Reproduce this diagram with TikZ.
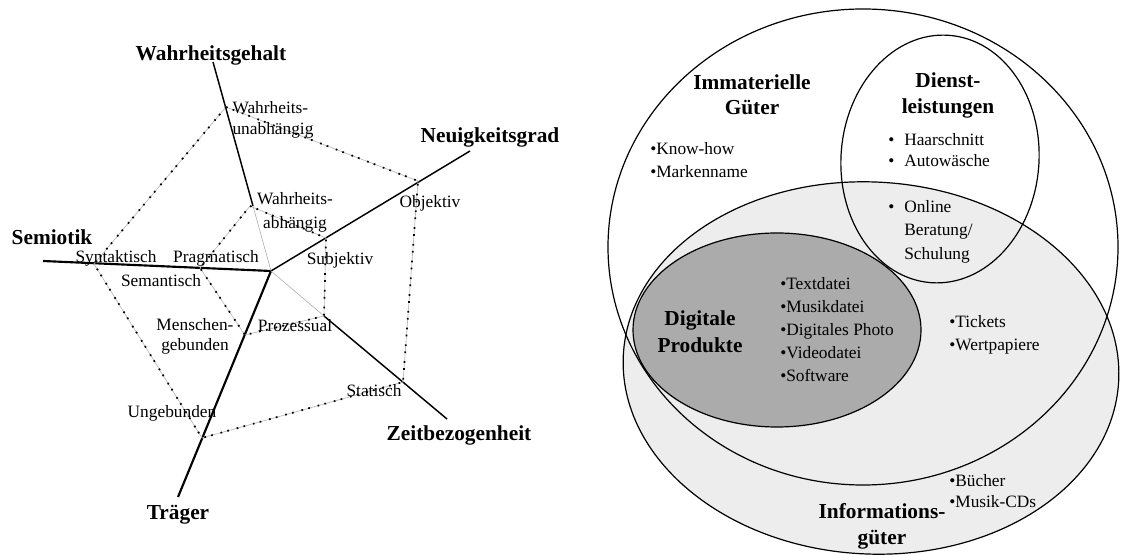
\documentclass[tikz,border=0pt]{standalone}
\usepackage{fontspec}
\setmainfont{Liberation Serif}
\begin{document}
\begin{tikzpicture}[x=0.75pt,y=-0.75pt,
  small/.style={font=\fontsize{13}{17}\selectfont, inner sep=0pt},
  head/.style={font=\fontsize{16}{20}\selectfont\bfseries, inner sep=0pt, align=center},
  axisthick/.style={line width=1.6pt},
  axismed/.style={line width=1.1pt},
  axisfaint/.style={line width=0.4pt, draw=gray!70},
  profile/.style={draw=gray!55, line width=0.5pt,
    postaction={draw=black, line width=1.3pt, dash pattern=on 1.3pt off 4pt on 1.3pt off 6pt}},
  setline/.style={line width=0.9pt},
]
\useasboundingbox (0,0) rectangle (1121,555);

% ---------- profile chart: axes ----------
\coordinate (c) at (271,271);
\coordinate (sEnd) at (43,261);
\coordinate (wEnd) at (213,62);
\coordinate (wMid) at (253,206);
\coordinate (nEnd) at (470,151);
\coordinate (zMid) at (324,316);
\coordinate (zEnd) at (447,419);
\coordinate (tEnd) at (178,497);

\draw[axisthick] (sEnd) -- (c);
\draw[axisthick] (c) -- (tEnd);
\draw[axismed] (c) -- (nEnd);
\draw[axisfaint] (c) -- (wMid);
\draw[axismed] (wMid) -- (wEnd);
\draw[axisfaint] (c) -- (zMid);
\draw[axismed] (zMid) -- (zEnd);

% axis titles
\node[head] (wg) at (211,55) {Wahrheitsgehalt};
\node[head] (ng) at (490,137) {Neuigkeitsgrad};
\node[head] (sem) at (52,237) {Semiotik};
\node[head] (zb) at (459,435) {Zeitbezogenheit};
\node[head] (tr) at (178,515) {Träger};

% ---------- profile chart: characteristic values ----------
\coordinate (p1) at (226,107);
\coordinate (p2) at (418,181);
\coordinate (p3) at (403,382);
\coordinate (p4) at (202,438);
\coordinate (p5) at (94,264);

\coordinate (q1) at (250,206);
\coordinate (q2) at (326,238);
\coordinate (q3) at (324,316);
\coordinate (q4) at (245,335);
\coordinate (q5) at (200,268);

\draw[profile] (p1) -- (p2) -- (p3) -- (p4) -- (p5) -- cycle;
\draw[profile] (q1) -- (q2) -- (q3) -- (q4) -- (q5) -- cycle;

\node[small, font=\fontsize{13}{15.8}\selectfont, align=left] (wu) at (273,119.5) {Wahrheits-\\unabhängig};
\node[small, font=\fontsize{13}{18}\selectfont, align=center] (wa) at (295,212) {Wahrheits-\\abhängig};
\node[small] (obj) at (430,203) {Objektiv};
\node[small] (subj) at (340,260) {Subjektiv};
\node[small] (syn) at (116,258) {Syntaktisch};
\node[small] (prag) at (216,258) {Pragmatisch};
\node[small] (seman) at (161,281) {Semantisch};
\node[small, font=\fontsize{13}{15}\selectfont, align=center] (mg) at (195,336) {Menschen-\\gebunden};
\node[small] (proz) at (295,326) {Prozessual};
\node[small] (ung) at (172,413) {Ungebunden};
\node[small] (stat) at (374,391) {Statisch};

% ---------- set diagram ----------
\fill[gray!14, rotate around={-3:(871,368)}] (871,368) ellipse [x radius=248, y radius=186];
\fill[black!33] (777,330) ellipse [x radius=144, y radius=97];

\draw[setline] (863,247) ellipse [x radius=255, y radius=238];
\draw[setline, rotate around={-3:(871,368)}] (871,368) ellipse [x radius=248, y radius=186];
\draw[setline, rotate around={-4:(940,159)}] (940,159) ellipse [x radius=99, y radius=124];
\draw[setline] (777,330) ellipse [x radius=144, y radius=97];

% set titles
\node[head, font=\fontsize{16}{18.75}\selectfont\bfseries] (img) at (752,94.5) {Immaterielle\\Güter};
\node[head, font=\fontsize{16}{19.5}\selectfont\bfseries] (dl) at (948,95) {Dienst-\\leistungen};
\node[head, font=\fontsize{16}{20}\selectfont\bfseries] (dp) at (700,331.5) {Digitale\\Produkte};
\node[head, font=\fontsize{16}{20}\selectfont\bfseries] (ig) at (882,526.5) {Informations-\\güter};

% set members
\node[small, font=\fontsize{13}{17.25}\selectfont, align=left, anchor=west] (imgList) at (650,160.5)
  {•Know-how\\•Markenname};
\node[small, font=\fontsize{13}{15.75}\selectfont, align=left, anchor=west] (dlList) at (904,150.5)
  {\llap{\makebox[12pt][l]{•}}Haarschnitt\\\llap{\makebox[12pt][l]{•}}Autowäsche};
\node[small, font=\fontsize{13}{17.6}\selectfont, align=left, anchor=west] (dlOnline) at (904,231.5)
  {\llap{\makebox[12pt][l]{•}}Online\\Beratung/\\Schulung};
\node[small, font=\fontsize{13}{17.25}\selectfont, align=left, anchor=west] (dpList) at (780,330)
  {•Textdatei\\•Musikdatei\\•Digitales Photo\\•Videodatei\\•Software};
\node[small, font=\fontsize{13}{17.25}\selectfont, align=left, anchor=west] (igList1) at (949,334.5)
  {•Tickets\\•Wertpapiere};
\node[small, font=\fontsize{13}{15.75}\selectfont, align=left, anchor=west] (igList2) at (949,491.5)
  {•Bücher\\•Musik-CDs};
\end{tikzpicture}
\end{document}
